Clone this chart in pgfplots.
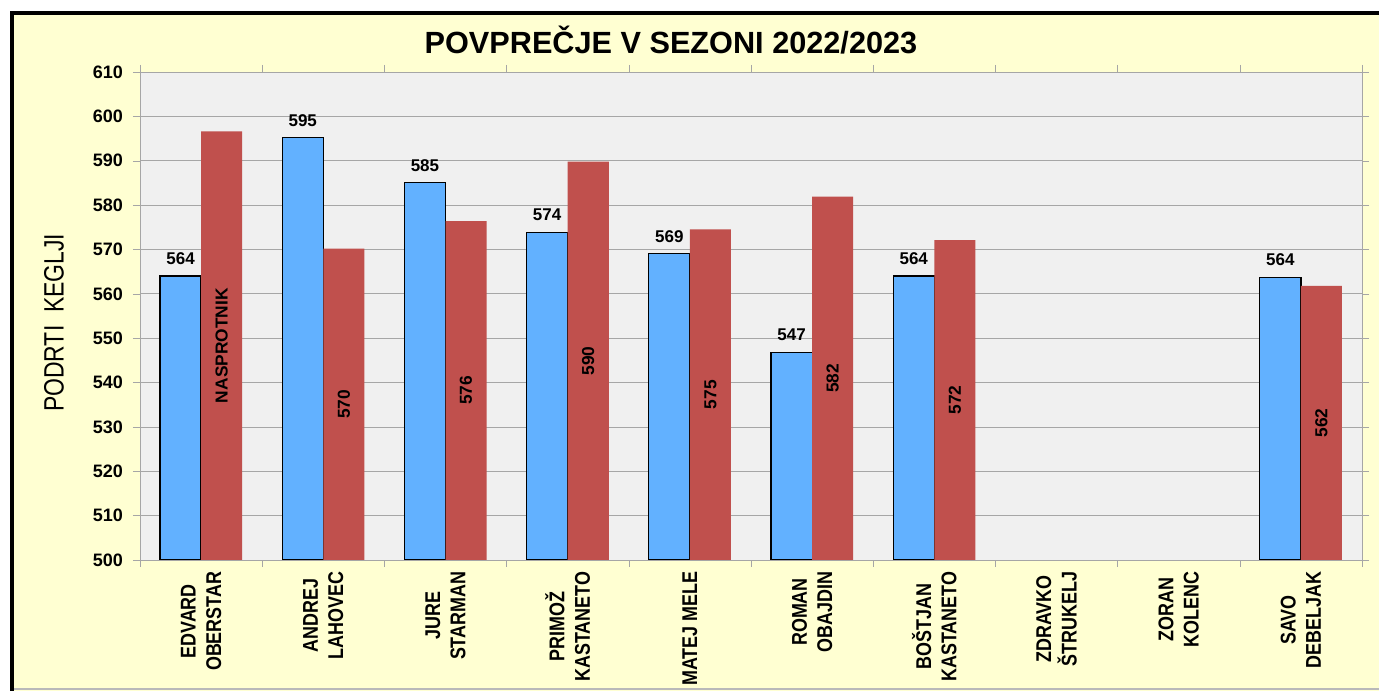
\documentclass[border=0pt]{standalone}
\usepackage{fontspec}
\setmainfont{Liberation Sans}
\newfontfamily\nb[FakeStretch=0.84]{Liberation Sans}
\newfontfamily\ny[FakeStretch=0.82]{Liberation Sans}
\usepackage{pgfplots}
\pgfplotsset{compat=1.18}
\usepackage{pgfplotstable}
\definecolor{bgyel}{HTML}{FFFFD2}
\definecolor{plotbg}{HTML}{F0F0F0}
\definecolor{barblue}{HTML}{62B1FF}
\definecolor{barred}{HTML}{C0504D}
\definecolor{gridgray}{HTML}{A6A6A6}

\pgfplotstableread{
x blue
0 564.0
1 595.2
2 585.1
3 573.9
4 569.1
5 546.8
6 564.0
9 563.7
}\bluedata
\pgfplotstableread{
x red lab
0 596.6 NASPROTNIK
1 570.2 570
2 576.4 576
3 589.8 590
4 574.5 575
5 581.9 582
6 572.1 572
9 561.8 562
}\reddata

\begin{document}
\begin{tikzpicture}
\useasboundingbox (-105pt,-98.25pt) rectangle (929.25pt,420pt);
\fill[white] (-105pt,-98.25pt) rectangle (929.25pt,420pt);
\fill[bgyel] (-94.5pt,-98.25pt) rectangle (929.25pt,408.75pt);
\draw[gray!55, line width=1.5pt] (-96pt,-97pt) -- (929.25pt,-97pt);
\draw[line width=3pt, line join=miter] (-96pt,-98.25pt) -- (-96pt,410.6pt) -- (929.25pt,410.6pt);
\begin{axis}[
  at={(0,0)}, anchor=south west,
  scale only axis, width=916.5pt, height=366pt,
  xmin=-0.5, xmax=9.5, ymin=500, ymax=610,
  axis background/.style={fill=plotbg},
  axis line style={gridgray},
  ytick={500,510,...,610},
  ymajorgrids, grid style={gridgray, line width=0.6pt},
  tick align=outside,
  major tick length=5.25pt,
  minor tick length=5.25pt,
  ytick style={gridgray},
  xtick={0,...,9},
  major x tick style={draw=none},
  minor xtick={-0.5,0.5,...,9.5},
  minor x tick style={gridgray},
  xticklabels={{EDVARD\\OBERSTAR},{ANDREJ\\LAHOVEC},{JURE\\STARMAN},{PRIMOŽ\\KASTANETO},{MATEJ MELE},{ROMAN\\OBAJDIN},{BOŠTJAN\\KASTANETO},{ZDRAVKO\\ŠTRUKELJ},{ZORAN\\KOLENC},{SAVO\\DEBELJAK}},
  xticklabel style={rotate=90, anchor=east, align=center, font=\nb\fontsize{16}{19}\selectfont\bfseries},
  yticklabel style={font=\fontsize{13.5}{16}\selectfont\bfseries, xshift=-4pt},
  /pgf/number format/assume math mode=true,
  ylabel={PODRTI\ \ KEGLJI},
  every axis y label/.style={at={(axis description cs:0,0.486)}, anchor=center, rotate=90, yshift=64.5pt, font=\ny\fontsize{21}{24}\selectfont},
  title={POVPREČJE V SEZONI 2022/2023},
  every axis title/.style={at={(axis description cs:0.4345,1)}, anchor=base, yshift=14pt, font=\fontsize{23}{28}\selectfont\bfseries},
]
\addplot[ybar, bar width=0.336, bar shift=-0.168, fill=barblue, draw=black, line width=0.9pt,
  nodes near coords={\pgfmathprintnumber[fixed,precision=0]{\pgfplotspointmeta}},
  every node near coord/.append style={font=\fontsize{12.75}{16}\selectfont\bfseries, inner sep=0pt, yshift=8pt, xshift=-15.4pt, black}]
  table[x=x, y=blue] {\bluedata};
\addplot[ybar, bar width=0.336, bar shift=0.168, fill=barred, draw=none]
  table[x=x, y=red] {\reddata};
\addplot[draw=none, mark=none, nodes near coords, point meta=explicit symbolic,
  every node near coord/.append style={rotate=90, anchor=center, inner sep=0pt, font=\fontsize{13}{16}\selectfont\bfseries, black}]
  table[x expr=\thisrow{x}+0.168, y expr=(\thisrow{red}+500)/2, meta=lab] {\reddata};
\end{axis}
\end{tikzpicture}
\end{document}
